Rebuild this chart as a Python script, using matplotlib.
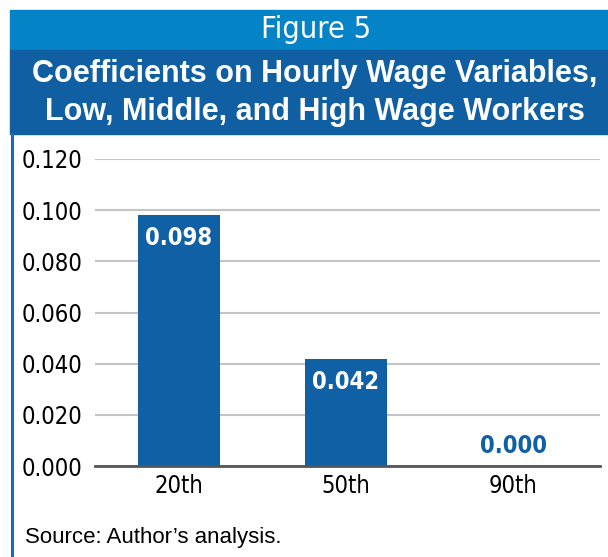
import matplotlib.pyplot as plt
from matplotlib.patches import Rectangle
from matplotlib.lines import Line2D

# Coefficients by wage percentile
categories = ['20th', '50th', '90th']
coefficients = [0.098, 0.042, 0.000]
yticks = [0.000, 0.020, 0.040, 0.060, 0.080, 0.100, 0.120]

W, H = 608, 557
LIGHT_BLUE = '#0583C7'
DARK_BLUE = '#0F5FA2'
BAR_BLUE = '#1060A6'
NARROW = dict(family='DejaVu Sans', stretch='condensed')

fig = plt.figure(figsize=(W / 100, H / 100), dpi=100)


def fx(px):
    return px / W


def fy(py):
    return 1 - py / H


# Header bands and left rule
fig.patches.append(Rectangle((fx(10), fy(50)), fx(W - 10), 40 / H, transform=fig.transFigure,
                             color=LIGHT_BLUE, zorder=0))
fig.patches.append(Rectangle((fx(10), fy(134)), fx(W - 10), 84 / H, transform=fig.transFigure,
                             color=DARK_BLUE, zorder=0))
fig.lines.append(Line2D([fx(12), fx(12)], [fy(134), 0], transform=fig.transFigure,
                        color='#1A6DB3', linewidth=2.2))

fig.text(fx(316), fy(30), 'Figure 5', color='white', fontsize=22, **NARROW,
         ha='center', va='center')
fig.text(fx(315), fy(74), 'Coefficients on Hourly Wage Variables,', color='white',
         fontsize=22, fontweight='bold', family=['Liberation Sans', 'DejaVu Sans'],
         ha='center', va='center')
fig.text(fx(315), fy(112), 'Low, Middle, and High Wage Workers', color='white',
         fontsize=22, fontweight='bold', family=['Liberation Sans', 'DejaVu Sans'],
         ha='center', va='center')

# Plot area
ax = fig.add_axes([fx(95), fy(466), fx(505), (466 - 159) / H])
x = range(len(categories))
ax.bar(x, coefficients, width=0.49, color=BAR_BLUE, zorder=3)
ax.set_ylim(0, 0.12)
ax.set_xlim(-0.5, 2.52)
ax.set_yticks(yticks)
ax.set_yticklabels([f'{v:.3f}' for v in yticks], fontsize=17, **NARROW)
ax.set_xticks(list(x))
ax.set_xticklabels(categories, fontsize=17, **NARROW)
ax.tick_params(axis='y', length=0, pad=9)
ax.tick_params(axis='x', length=0, pad=6)
ax.grid(axis='y', color='#C4C4C4', linewidth=1.5, zorder=0)
for side in ['top', 'right', 'left']:
    ax.spines[side].set_visible(False)
ax.spines['bottom'].set_color('#555555')
ax.spines['bottom'].set_linewidth(2)
ax.spines['bottom'].set_zorder(4)

for xi, v in zip(x, coefficients):
    if v > 0.01:
        ax.annotate(f'{v:.3f}', (xi, v), xytext=(0, -8), textcoords='offset points',
                    ha='center', va='top', color='white', fontsize=17,
                    fontweight='bold', zorder=5, **NARROW)
    else:
        ax.annotate(f'{v:.3f}', (xi, v), xytext=(0, 6), textcoords='offset points',
                    ha='center', va='bottom', color=BAR_BLUE, fontsize=17,
                    fontweight='bold', zorder=5, **NARROW)

fig.text(fx(25), fy(538), 'Source: Author\u2019s analysis.', fontsize=16,
         family=['Liberation Sans', 'DejaVu Sans'], ha='left', va='center')

fig.savefig('out.png', dpi=100)
